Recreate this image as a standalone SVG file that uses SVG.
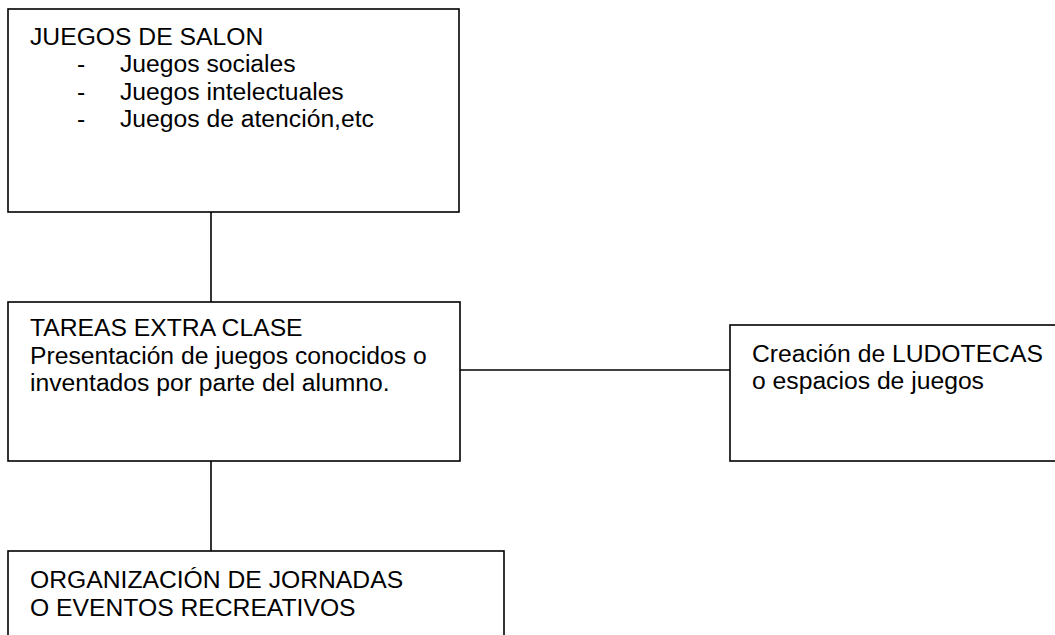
<svg xmlns="http://www.w3.org/2000/svg" width="1055" height="635" viewBox="0 0 1055 635">
<style>
.box{fill:#fff;stroke:#000;stroke-width:1.6}
.ln{stroke:#000;stroke-width:1.6;fill:none}
text{font-family:"Liberation Sans",Arial,sans-serif;font-size:24.7px;fill:#000}
</style>
<rect width="1055" height="635" fill="#fff"/>
<g id="connectors">
<line class="ln" x1="211" y1="212" x2="211" y2="302"/>
<line class="ln" x1="460" y1="370" x2="730" y2="370"/>
<line class="ln" x1="211" y1="461" x2="211" y2="551"/>
</g>
<g id="juegos-salon">
<rect class="box" x="8" y="9" width="451" height="203"/>
<text x="30" y="45">JUEGOS DE SALON</text>
<text x="77" y="72">-</text><text x="120" y="72">Juegos sociales</text>
<text x="77" y="100">-</text><text x="120" y="100">Juegos intelectuales</text>
<text x="77" y="127">-</text><text x="120" y="127">Juegos de atención,etc</text>
</g>
<g id="tareas">
<rect class="box" x="8" y="302" width="452" height="159"/>
<text x="30" y="336">TAREAS EXTRA CLASE</text>
<text x="30" y="364">Presentación de juegos conocidos o</text>
<text x="30" y="391">inventados por parte del alumno.</text>
</g>
<g id="ludotecas">
<rect class="box" x="730" y="325" width="340" height="136"/>
<text x="752" y="362">Creación de LUDOTECAS</text>
<text x="752" y="389">o espacios de juegos</text>
</g>
<g id="jornadas">
<rect class="box" x="8" y="551" width="496" height="100"/>
<text x="30" y="588">ORGANIZACIÓN DE JORNADAS</text>
<text x="30" y="616">O EVENTOS RECREATIVOS</text>
</g>
</svg>
